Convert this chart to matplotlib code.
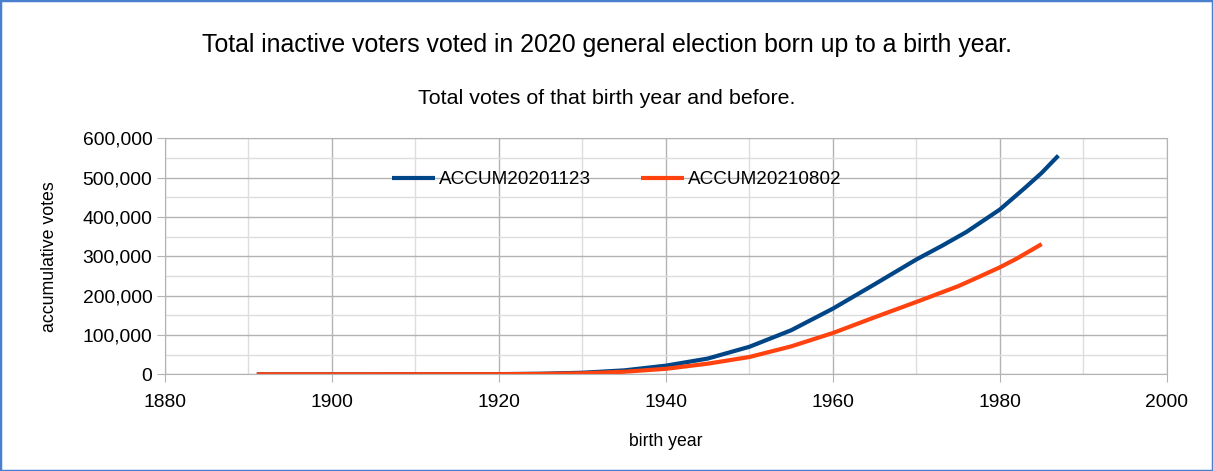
import matplotlib.pyplot as plt
from matplotlib.patches import Rectangle
from matplotlib.ticker import FuncFormatter, MultipleLocator

plt.rcParams['font.family'] = ['Liberation Sans', 'DejaVu Sans']

# --- Data ---
years_a = [1891, 1900, 1910, 1920, 1925, 1930, 1935, 1940, 1945, 1950,
           1955, 1960, 1965, 1970, 1973, 1976, 1980, 1983, 1985, 1987]
accum_a = [0, 0, 100, 500, 1500, 4000, 10000, 22000, 40000, 70000,
           112000, 167000, 229000, 292000, 326000, 362000, 419000, 474000, 512000, 556000]

years_b = [1891, 1900, 1910, 1920, 1925, 1930, 1935, 1940, 1945, 1950,
           1955, 1960, 1965, 1970, 1975, 1977, 1980, 1982, 1985]
accum_b = [0, 0, 50, 300, 900, 2500, 6500, 14000, 27000, 44000,
           71000, 105000, 145000, 184000, 224000, 243000, 272000, 294000, 331000]

label_a = "ACCUM20201123"
label_b = "ACCUM20210802"

# --- Plotting ---
fig = plt.figure(figsize=(12.13, 4.71), dpi=100)
ax = fig.add_axes([0.136, 0.2053, 0.826, 0.5011])

ax.plot(years_a, accum_a, color='#004586', lw=3, label=label_a, solid_capstyle='butt')
ax.plot(years_b, accum_b, color='#ff420e', lw=3, label=label_b, solid_capstyle='butt')

ax.set_xlim(1880, 2000)
ax.set_ylim(0, 600000)
ax.xaxis.set_major_locator(MultipleLocator(20))
ax.xaxis.set_minor_locator(MultipleLocator(10))
ax.yaxis.set_major_locator(MultipleLocator(100000))
ax.yaxis.set_minor_locator(MultipleLocator(50000))
ax.yaxis.set_major_formatter(FuncFormatter(lambda v, p: f"{int(v):,}"))

ax.grid(which='major', color='#b3b3b3', lw=1)
ax.grid(which='minor', color='#dddddd', lw=1)
ax.set_axisbelow(True)
for s in ax.spines.values():
    s.set_color('#b3b3b3')
ax.tick_params(which='major', length=6, color='#b3b3b3', labelsize=13.9, pad=3)
ax.tick_params(which='minor', length=0)
ax.tick_params(axis='x', pad=8)

ax.set_xlabel("birth year", fontsize=12.7, labelpad=16)
ax.set_ylabel("accumulative votes", fontsize=12.8, labelpad=18)

ax.legend(loc='center', bbox_to_anchor=(0.451, 0.825), ncol=2, frameon=False,
          fontsize=13.6, handlelength=2.28, columnspacing=2.6, handletextpad=0.25)

fig.text(0.5, 0.904, "Total inactive voters voted in 2020 general election born up to a birth year.",
         ha='center', va='center', fontsize=17.9)
fig.text(0.5, 0.79, "Total votes of that birth year and before.",
         ha='center', va='center', fontsize=15.4)

fig.patches.append(Rectangle((0, 0), 1, 1, transform=fig.transFigure, fill=False,
                             edgecolor='#4a7fd0', lw=2.5))

fig.savefig("out.png", dpi=100)
